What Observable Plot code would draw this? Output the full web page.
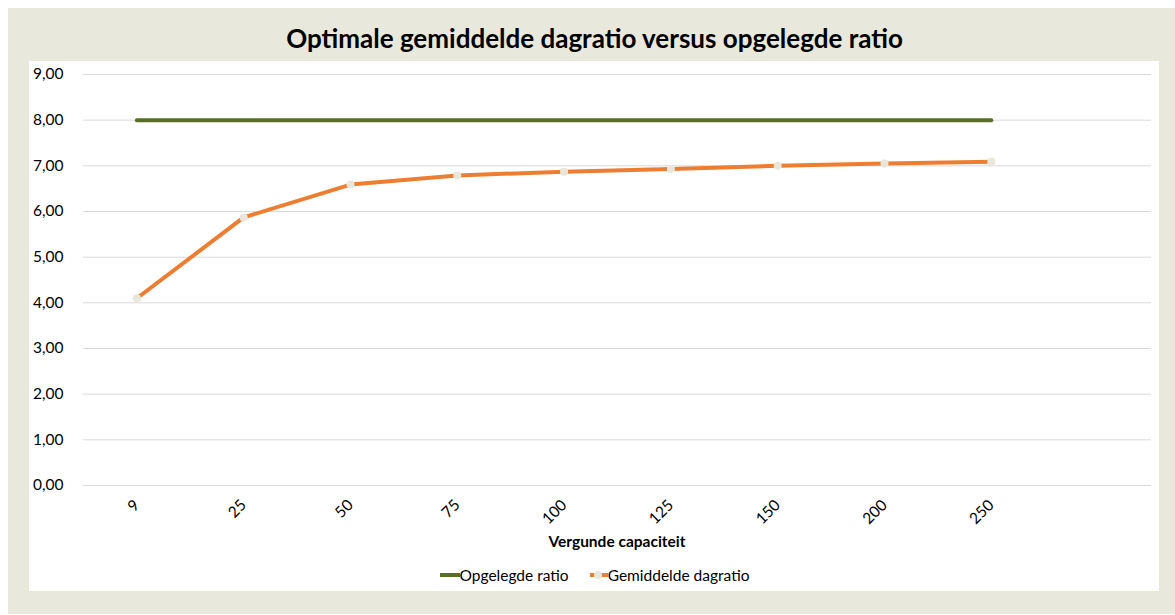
<!DOCTYPE html>
<html><head><meta charset="utf-8">
<script src="https://cdn.jsdelivr.net/npm/d3@7"></script>
<script src="https://cdn.jsdelivr.net/npm/@observablehq/plot@0.6"></script>
<style>
body{margin:0;background:#fff;font-family:Lato,"Open Sans",sans-serif;width:1175px;height:615px;position:relative;overflow:hidden;}
#outer{position:absolute;left:8px;top:8px;width:1167px;height:606px;background:#e9e8dd;}
#title{position:absolute;left:8px;width:1167px;top:21px;text-align:center;font-weight:700;font-size:26px;line-height:34px;color:#000;padding-left:6px;box-sizing:border-box;}
#panel{position:absolute;left:29px;top:61px;width:1130px;height:530px;background:#fff;}
#chart{position:absolute;left:0;top:0;}
#xtitle{position:absolute;left:83px;width:1068px;top:531px;text-align:center;font-weight:700;font-size:15.5px;line-height:20px;}
#legend{position:absolute;left:0;width:1175px;top:565px;display:flex;justify-content:center;gap:20px;font-size:15.5px;line-height:20px;padding-left:13px;box-sizing:border-box;}
#legend .it{display:flex;align-items:center;}
</style>
</head><body>
<div id="outer"></div>
<div id="title">Optimale gemiddelde dagratio versus opgelegde ratio</div>
<div id="panel"><div id="chart"></div></div>
<div id="xtitle">Vergunde capaciteit</div>
<div id="legend"></div>
<script>
const categories = ["9","25","50","75","100","125","150","200","250"];
const opgelegdeRatio = [8,8,8,8,8,8,8,8,8];
const gemiddeldeDagratio = [4.10,5.87,6.59,6.79,6.87,6.93,7.00,7.05,7.09];
const yTicks = [0,1,2,3,4,5,6,7,8,9];
const seriesNames = ["Opgelegde ratio","Gemiddelde dagratio"];
const seriesColors = ["#5a6e27","#ED7D31"];
const markerColor = "#e8e7da";

const xDomain = [...categories, ""];
const dataA = categories.map((c,i)=>({x:c,y:opgelegdeRatio[i]}));
const dataB = categories.map((c,i)=>({x:c,y:gemiddeldeDagratio[i]}));
const fmt = d => d.toFixed(2).replace(".", ",");

const plot = Plot.plot({
  width:1130, height:470,
  marginLeft:54, marginRight:8, marginTop:13, marginBottom:46,
  style:{fontFamily:"Lato, 'Open Sans', sans-serif", fontSize:"15.5px", color:"#000", background:"transparent"},
  x:{type:"point", domain:xDomain, padding:0.5, round:false, axis:null},
  y:{domain:[0,9], axis:null},
  marks:[
    Plot.ruleY(yTicks,{stroke:"#d9d9d9", strokeWidth:1}),
    Plot.axisY({ticks:yTicks, tickSize:0, tickPadding:20, tickFormat:fmt, fontSize:15.5, label:null}),
    Plot.axisX({ticks:categories, tickSize:0, tickPadding:17, tickRotate:-45, fontSize:15.5, label:null}),
    Plot.line(dataA,{x:"x",y:"y",stroke:seriesColors[0],strokeWidth:4,strokeLinecap:"round"}),
    Plot.line(dataB,{x:"x",y:"y",stroke:seriesColors[1],strokeWidth:4,strokeLinecap:"round"}),
    Plot.dot(dataB,{x:"x",y:"y",r:4,fill:markerColor,stroke:null})
  ]
});
document.getElementById("chart").appendChild(plot);

const leg = document.getElementById("legend");
seriesNames.forEach((n,i)=>{
  const it = document.createElement("div"); it.className="it";
  const mk = i===1 ? `<circle cx="9" cy="5" r="4" fill="${markerColor}"/>` : "";
  const w = i===1 ? 19 : 21;
  it.innerHTML = `<svg width="${w}" height="10"><line x1="1" x2="${w}" y1="5" y2="5" stroke="${seriesColors[i]}" stroke-width="4"/>${mk}</svg><span>${n}</span>`;
  leg.appendChild(it);
});
</script>
</body></html>
